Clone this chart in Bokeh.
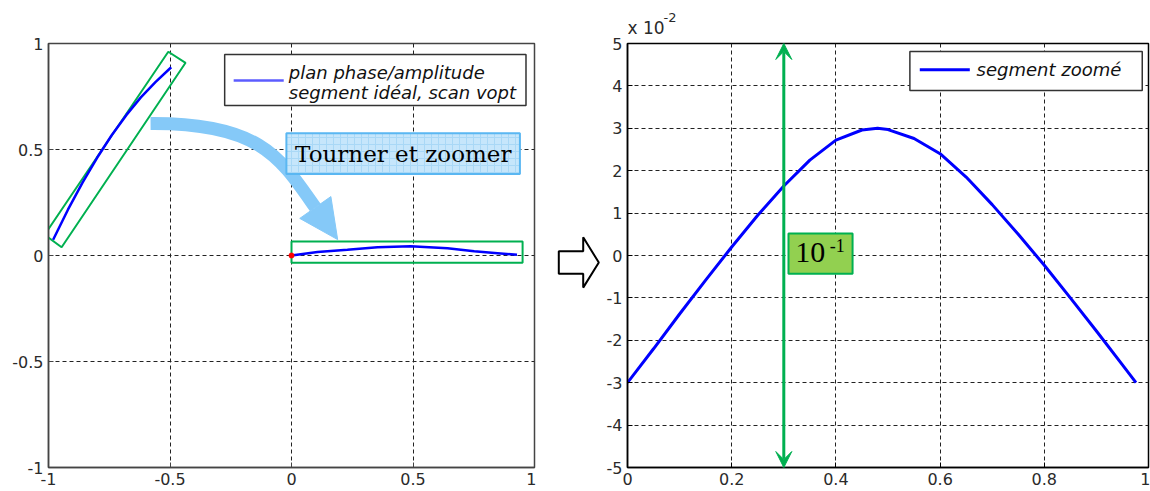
from bokeh.plotting import figure
from bokeh.layouts import row, column
from bokeh.models import Range1d, FixedTicker, Arrow, VeeHead, Label
from bokeh.embed import file_html
from bokeh.resources import INLINE

# ---------------- data ----------------
# left panel: ideal segment in phase/amplitude plane
SEG_X = [-0.981, -0.92, -0.86, -0.80, -0.74, -0.68, -0.62, -0.56, -0.495]
SEG_Y = [0.074, 0.216, 0.344, 0.461, 0.567, 0.662, 0.746, 0.818, 0.888]
# same segment after rotation (left panel)
FLAT_X = [0.0, 0.107, 0.23, 0.354, 0.49, 0.642, 0.752, 0.848, 0.928]
FLAT_Y = [0.0, 0.016, 0.027, 0.039, 0.044, 0.034, 0.020, 0.011, 0.003]
# right panel: zoomed segment (values in units of 1e-2)
ZOOM_X = [0.0, 0.05, 0.1, 0.15, 0.2, 0.25, 0.3, 0.35, 0.4, 0.45, 0.48, 0.5,
          0.55, 0.6, 0.65, 0.7, 0.75, 0.8, 0.85, 0.9, 0.95, 0.976]
ZOOM_Y = [-3.0, -2.2, -1.38, -0.58, 0.2, 0.95, 1.64, 2.25, 2.72, 2.96, 3.0, 2.97,
          2.76, 2.40, 1.85, 1.2, 0.5, -0.23, -1.0, -1.78, -2.58, -3.0]

LEFT_TICKS = [-1, -0.5, 0, 0.5, 1]
LEFT_LABELS = ["-1", "-0.5", "0", "0.5", "1"]
RX_TICKS = [0, 0.2, 0.4, 0.6, 0.8, 1]
RX_LABELS = ["0", "0.2", "0.4", "0.6", "0.8", "1"]
RY_TICKS = [-5, -4, -3, -2, -1, 0, 1, 2, 3, 4, 5]
RY_LABELS = ["-5", "-4", "-3", "-2", "-1", "0", "1", "2", "3", "4", "5"]

LEFT_LEGEND = ["plan phase/amplitude", "segment idéal, scan vopt"]
RIGHT_LEGEND = "segment zoomé"
CALLOUT = "Tourner et zoomer"

# annotation geometry
ROT_BOX_X = [-1.016, -0.507, -0.436, -0.946]
ROT_BOX_Y = [0.098, 0.961, 0.909, 0.039]
FLAT_BOX = dict(left=0.0, right=0.951, top=0.066, bottom=-0.034)
ARC = dict(x0=-0.580, y0=0.623, cx0=-0.127, cy0=0.627, cx1=-0.044, cy1=0.458, x1=0.098, y1=0.226)
ARC_HEAD_X = [0.034, 0.190, 0.162]
ARC_HEAD_Y = [0.175, 0.075, 0.278]
BLOCK_X = [22.3, 46.7, 46.7, 62.3, 46.7, 46.7, 22.3]
BLOCK_Y = [240.7, 240.7, 224.3, 253.7, 282.7, 266.7, 266.7]

GREEN = "#00B050"
LIGHT = "#85C9F8"
FONT = "DejaVu Sans"
TICK_COLOR = "#2a2a2a"


def style(p, xt, xl, yt, yl, outline):
    p.xaxis.ticker = FixedTicker(ticks=xt)
    p.yaxis.ticker = FixedTicker(ticks=yt)
    p.xaxis.major_label_overrides = {t: l for t, l in zip(xt, xl)}
    p.yaxis.major_label_overrides = {t: l for t, l in zip(yt, yl)}
    for ax in (p.xaxis, p.yaxis):
        ax.major_label_text_font = FONT
        ax.major_label_text_font_size = "16px"
        ax.major_label_text_color = TICK_COLOR
        ax.major_tick_in = 5
        ax.major_tick_out = 0
        ax.minor_tick_line_color = None
        ax.axis_line_color = outline
        ax.axis_line_width = 1.5
        ax.major_tick_line_color = outline
        ax.major_label_standoff = 5
    for g in (p.xgrid, p.ygrid):
        g.grid_line_color = "#222222"
        g.grid_line_dash = "4 3"
        g.grid_line_width = 1
    p.outline_line_color = outline
    p.outline_line_width = 1.5
    p.background_fill_color = "white"
    p.border_fill_color = "white"


def blank(p):
    p.xgrid.visible = False
    p.ygrid.visible = False
    p.outline_line_color = None
    p.background_fill_color = "white"
    p.border_fill_color = "white"


# ---------------- left panel ----------------
left = figure(width=536, height=491, x_range=Range1d(-1, 1), y_range=Range1d(-1, 1),
              output_backend="svg", toolbar_location=None, title=None,
              min_border_left=48, min_border_right=2, min_border_top=43, min_border_bottom=24)
style(left, LEFT_TICKS, LEFT_LABELS, LEFT_TICKS, LEFT_LABELS, "#444444")

left.bezier(x0=[ARC["x0"]], y0=[ARC["y0"]], x1=[ARC["x1"]], y1=[ARC["y1"]],
            cx0=[ARC["cx0"]], cy0=[ARC["cy0"]], cx1=[ARC["cx1"]], cy1=[ARC["cy1"]],
            line_color=LIGHT, line_width=13, line_cap="butt")
left.patch(ARC_HEAD_X, ARC_HEAD_Y, color=LIGHT)

left.patch(ROT_BOX_X, ROT_BOX_Y, fill_color=None, line_color=GREEN, line_width=2)
left.quad(**{k: [v] for k, v in FLAT_BOX.items()}, fill_color=None, line_color=GREEN, line_width=2)

left.line(SEG_X, SEG_Y, line_color="#0000FF", line_width=2.5)
left.line(FLAT_X, FLAT_Y, line_color="#0000FF", line_width=2.5)
left.scatter([FLAT_X[0]], [FLAT_Y[0]], size=5, color="red")

# callout box
left.quad(left=[-0.021], right=[0.940], top=[0.577], bottom=[0.385],
          fill_color="#C6E6FB", line_color="#5AB7F2", line_width=2,
          hatch_pattern="+", hatch_color="#A9D8F6", hatch_scale=7, hatch_weight=1)
left.add_layout(Label(x=0.46, y=0.481, text=CALLOUT, text_font="DejaVu Serif",
                      text_font_size="23px", text_align="center", text_baseline="middle",
                      text_color="black"))

# legend (left)
left.quad(left=[-0.275], right=[0.965], top=[0.948], bottom=[0.708],
          fill_color="white", line_color="#333333", line_width=1.5)
left.segment(x0=[-0.238], y0=[0.825], x1=[-0.032], y1=[0.825], line_color="#5C5CFF", line_width=2.5)
for txt, yy in zip(LEFT_LEGEND, [0.865, 0.770]):
    left.add_layout(Label(x=-0.011, y=yy, text=txt, text_font=FONT, text_font_size="18px",
                          text_font_style="italic", text_baseline="middle", text_color="#111111"))

# ---------------- middle (block arrow) ----------------
mid = figure(width=64, height=491, x_range=Range1d(0, 64), y_range=Range1d(491, 0),
             output_backend="svg", toolbar_location=None, title=None,
             x_axis_type=None, y_axis_type=None, min_border=0)
blank(mid)
mid.patch(BLOCK_X, BLOCK_Y, fill_color="white", line_color="black", line_width=2)

# ---------------- multiplier strip above right panel ----------------
top = figure(width=550, height=36, x_range=Range1d(0, 1), y_range=Range1d(36, 0),
             output_backend="svg", toolbar_location=None, title=None,
             x_axis_type=None, y_axis_type=None,
             min_border_left=27, min_border_right=2, min_border_top=0, min_border_bottom=0)
blank(top)
top.add_layout(Label(x=0.0, y=27, text="x 10", text_font=FONT, text_font_size="17px",
                     text_baseline="middle", text_color=TICK_COLOR))
top.add_layout(Label(x=0.069, y=17, text="-2", text_font=FONT, text_font_size="13px",
                     text_baseline="middle", text_color=TICK_COLOR))

# ---------------- right panel ----------------
right = figure(width=550, height=455, x_range=Range1d(0, 1), y_range=Range1d(-5, 5),
               output_backend="svg", toolbar_location=None, title=None,
               min_border_left=27, min_border_right=2, min_border_top=7, min_border_bottom=24)
style(right, RX_TICKS, RX_LABELS, RY_TICKS, RY_LABELS, "black")

right.line(ZOOM_X, ZOOM_Y, line_color="#0000FF", line_width=3)

head = dict(size=16, fill_color=GREEN, line_color=GREEN)
right.add_layout(Arrow(start=VeeHead(**head), end=VeeHead(**head),
                       x_start=0.3, y_start=-5, x_end=0.3, y_end=5,
                       line_color=GREEN, line_width=3))

right.quad(left=[0.309], right=[0.432], top=[0.52], bottom=[-0.43],
           fill_color="#92D050", line_color=GREEN, line_width=2)
right.add_layout(Label(x=0.322, y=0.06, text="10", text_font="Liberation Serif",
                       text_font_size="30px", text_baseline="middle", text_color="black"))
right.add_layout(Label(x=0.388, y=0.24, text="-1", text_font="Liberation Serif",
                       text_font_size="18px", text_baseline="middle", text_color="black"))

# legend (right)
right.quad(left=[0.542], right=[0.988], top=[4.81], bottom=[3.89],
           fill_color="white", line_color="#333333", line_width=1.5)
right.segment(x0=[0.561], y0=[4.38], x1=[0.657], y1=[4.38], line_color="#0000FF", line_width=3)
right.add_layout(Label(x=0.670, y=4.38, text=RIGHT_LEGEND, text_font=FONT, text_font_size="18px",
                       text_font_style="italic", text_baseline="middle", text_color="#111111"))

layout = row(left, mid, column(top, right))
open("out.html", "w").write(file_html(layout, INLINE))
